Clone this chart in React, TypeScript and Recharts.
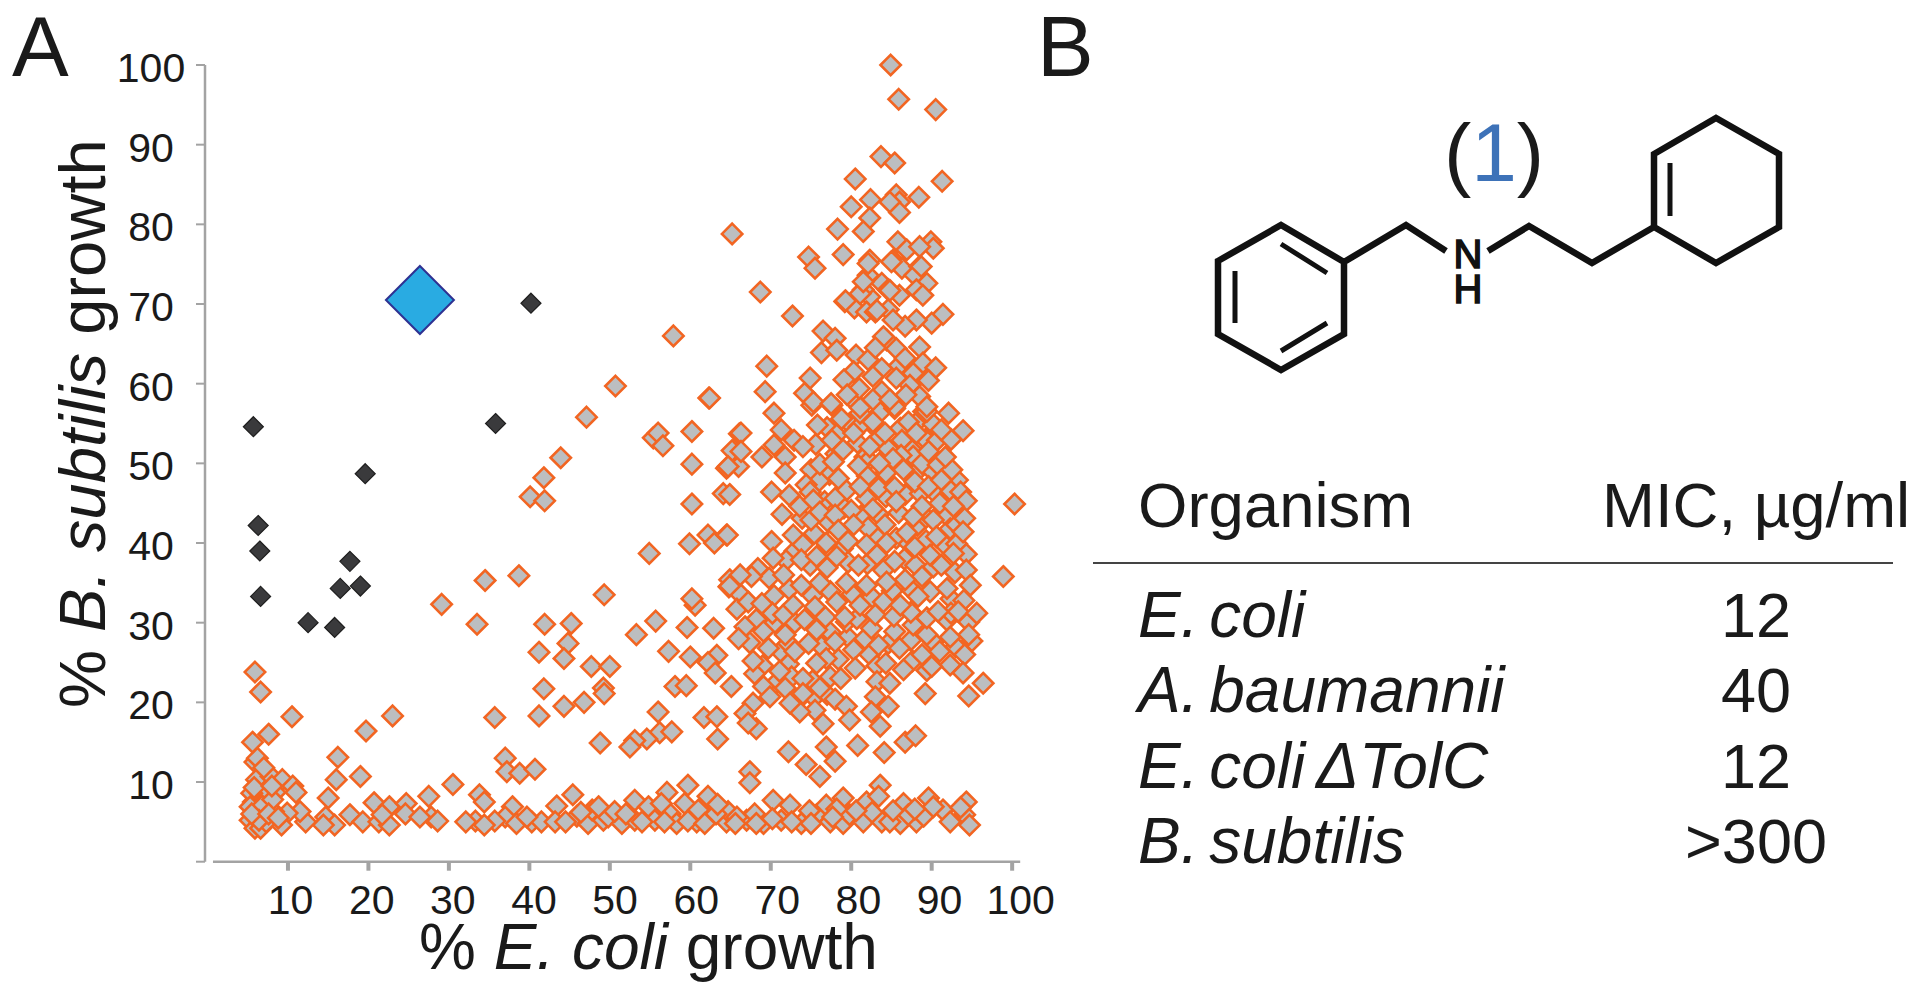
import { ScatterChart, Scatter, XAxis, YAxis, ReferenceLine } from "recharts";

const xTicks = [10, 20, 30, 40, 50, 60, 70, 80, 90, 100];
const yTicks = [0, 10, 20, 30, 40, 50, 60, 70, 80, 90, 100];

// compound 1
const compound = [[26.4, 70.5]];

// black diamonds, upper left
const hits = [
  [5.7, 54.6], [6.3, 42.2], [6.5, 39], [6.6, 33.3], [12.5, 30], [15.8, 29.4], [16.5, 34.3],
  [17.7, 37.7], [19, 34.6], [19.6, 48.7], [35.8, 55], [40.2, 70.1],
];

// everything above about 56% on the y axis
const upperCloud = [
  [84.9, 100], [85.9, 95.7], [90.5, 94.4], [83.7, 88.5], [85.4, 87.7], [80.5, 85.7], [91.3, 85.4],
  [80, 82.2], [82.4, 83.1], [85.6, 83.7], [86, 82.8], [88.4, 83.4], [86, 81.5], [84.8, 82.8],
  [82.3, 80.8], [81.5, 79.1], [78.3, 79.4], [65.2, 78.8], [79, 76.2], [74.7, 75.9], [75.5, 74.5],
  [85.8, 77.8], [86.9, 76.8], [89.9, 77.8], [90.2, 77], [88.5, 77.2], [82.3, 75.5], [85.2, 75.5],
  [86.3, 74.5], [88.5, 74.7], [87.9, 73.6], [89.4, 72.6], [82.1, 73.6], [83.8, 72.6], [84.6, 71.8],
  [88.1, 71.8], [88.9, 71.1], [82.3, 70.9], [81.5, 71.8], [86, 71.1], [68.7, 71.5], [79.2, 70.3],
  [80.4, 69.5], [81.9, 69], [83, 69], [84.6, 69.3], [72.7, 68.5], [91.4, 68.7], [90, 67.6],
  [88.1, 68], [86.7, 67.2], [85.2, 68], [76.5, 66.6], [78, 65.7], [76.3, 63.9], [78.2, 64.2],
  [84.4, 65.5], [84, 65.9], [85.6, 64.4], [88.5, 64.6], [88.9, 62.6], [90.5, 62], [80.6, 63.6],
  [82.1, 63], [83.8, 61.9], [86, 62.3], [87.7, 61.3], [69.5, 62.2], [69.3, 59], [62.4, 58.2],
  [74.9, 60.7], [74.2, 58.8], [75.3, 57.7], [77.5, 57.5], [80.3, 61.5], [79.1, 60.5], [82.7, 60.9],
  [85.6, 60.7], [87.3, 59.8], [83.8, 59], [88.5, 58.4], [80.5, 57.7], [82.7, 58], [85.4, 57.1],
  [89.4, 56.5], [81.1, 57], [57.9, 66], [50.7, 59.7], [81.1, 71.3], [79.3, 70.4], [81.5, 72.8],
  [84.8, 71.7], [83.2, 69.2], [82.1, 75.1], [85, 75.3], [88.7, 74.7], [89.4, 57.1], [81, 59.4],
  [84.8, 58], [86.8, 58.6], [86.7, 63.2], [83, 64.5], [79.5, 58.6], [89.6, 60.4],
];

// dense block, 30 to 56 on the y axis
const middleCloud = [
  [70.4, 56.3], [66.3, 53.8], [66.3, 51.5], [71.3, 54.2], [72.9, 52.9], [74, 52.1], [70.4, 52.3],
  [68.9, 50.8], [71.8, 50.8], [64.7, 49.6], [71.8, 48.8], [75.8, 54.8], [75.1, 57.3], [77.6, 57.3],
  [78.8, 55.6], [81.1, 56.3], [82.7, 55.2], [84.2, 53.8], [85.4, 56.9], [87.1, 55.2], [88.1, 53.8],
  [89, 56.5], [92.1, 56.3], [91.2, 54.2], [93.9, 54.1], [77.6, 52.9], [79, 51.7], [82.3, 52.1],
  [80.3, 53.8], [85.2, 50.6], [83.5, 50], [88.8, 50], [90.8, 49.8], [92.5, 49.2], [89.6, 51.5],
  [91.7, 50.8], [86.5, 49.2], [80.9, 49.7], [76.1, 49.9], [77.8, 50.2], [70.1, 46.4], [64.9, 46.1],
  [74.4, 47.3], [74.9, 46.4], [78.4, 48.1], [81.1, 47.1], [83.4, 46.9], [85.4, 47], [87.9, 47.7],
  [89.6, 47.1], [91.2, 47.9], [78, 45.6], [73.6, 44.6], [75.3, 45.4], [80, 44.1], [82.7, 44.3],
  [85.6, 45.2], [88.8, 44.6], [91, 45], [94.3, 45.3], [100.3, 44.9], [92.7, 44.6], [75, 42.9],
  [76.1, 43.9], [78, 43.5], [87.7, 43.3], [84.2, 42.3], [82.1, 41.9], [80.3, 42.3], [93.1, 42.3],
  [94.1, 43.1], [90.2, 42.9], [78.4, 41.6], [86.9, 41.3], [72.8, 41], [64.6, 41], [93.9, 41.4],
  [90.6, 40.8], [84.4, 40], [81.9, 39.8], [87.9, 39.5], [79.6, 40.2], [70.1, 40.2], [76.9, 40],
  [74, 39.8], [70.3, 38.1], [73.8, 37.9], [75.7, 38.3], [78.2, 38.3], [80.9, 37.2], [83.2, 38.5],
  [85.4, 37.7], [89.8, 38.5], [91.2, 37.2], [94.3, 38.6], [92.7, 38.7], [94.3, 36.6], [98.9, 35.8],
  [88.8, 35.8], [86.7, 35.4], [84.4, 35.1], [81.9, 34.7], [79.4, 35], [76.1, 35], [73.8, 34.7],
  [71.6, 36], [67.6, 35.8], [66.2, 36], [64.9, 34.6], [94.8, 34.7], [91.9, 34.3], [67.2, 32.6],
  [68.9, 32.4], [72.8, 32.2], [75.5, 32], [78.2, 32.6], [81.1, 32.2], [84, 32.6], [86.1, 32.2],
  [88.3, 33.3], [93.3, 31.4], [95.6, 31.2], [90.8, 31.4], [79.2, 30.7],
];

// second layer of the dense block, the diamonds half hidden under the first
const middleUnder = [
  [77, 54.5], [79.8, 55], [83.6, 56.4], [86.1, 54.4], [88.6, 55.6], [90.2, 54.9], [83.4, 54.1],
  [81, 54.6], [75.6, 52.4], [78.2, 53.6], [80.8, 52.6], [83.1, 52.8], [84.6, 51.8], [86.3, 52.9],
  [87.6, 51.6], [89.2, 53], [90.7, 52.9], [92.4, 53], [81.7, 50.8], [78.1, 51.2], [75, 49.2],
  [82.2, 50.4], [84.3, 48.8], [87.7, 50.9], [86.2, 51], [88.1, 48.9], [89.9, 49.2], [93.2, 47.9],
  [82, 48.4], [77.3, 48.6], [76, 47.8], [79.4, 46.6], [81.9, 45.6], [84.3, 45.8], [86.7, 46.1],
  [88.6, 46.2], [90.4, 46.3], [92.4, 46.5], [93.6, 46.4], [76.7, 45.2], [72.3, 46], [71.4, 43.6],
  [73.9, 43.1], [77.2, 42.6], [79.1, 44.4], [81.2, 43.4], [83.4, 43.6], [85.9, 43.8], [88.2, 42.2],
  [89.3, 43.2], [91.8, 43.5], [92.3, 41.8], [75.4, 41.2], [78.9, 39.3], [83.1, 40.8], [85.6, 40.6],
  [87.2, 39.9], [89.3, 40.3], [91.7, 39.7], [93.1, 39.9], [73, 39], [74.9, 37.2], [77, 36.9],
  [79.6, 37.6], [82, 37.4], [84, 36.6], [86.6, 38], [88, 37.2], [90.2, 37], [92.9, 36.3],
  [71.9, 37.8], [68.4, 36.8], [69.8, 35.6], [72.3, 34.2], [75.2, 33.4], [77.4, 33.9], [80.1, 33.6],
  [82.6, 33.2], [85.1, 34], [87.5, 34.1], [89.8, 33.9], [92.4, 33], [94, 32.8], [70.4, 33.4],
  [66, 33.8], [65.8, 31.7], [70.2, 31.2], [71.6, 31], [74.2, 30.4], [76.8, 30.7], [80.7, 30.5],
  [83, 31], [85.3, 30.8], [87.4, 31.3], [89.4, 30.6], [92.4, 31.2],
];

// lower part of the block, down to about 10
const lowerCloud = [
  [94.6, 30.1], [91.9, 30.3], [94.6, 28.5], [92.3, 28.2], [89.4, 28.5], [87.7, 29.7], [85.4, 28.9],
  [82.5, 29.3], [79.4, 30.1], [75.7, 29.1], [78, 27.6], [80.3, 26.6], [83.4, 27.2], [86, 26.8],
  [88.8, 26], [91, 26.4], [94.1, 26], [92.3, 24.7], [93.9, 23.7], [90, 24.5], [86.5, 24.1],
  [84.3, 24.9], [80.5, 24.3], [78.7, 23], [76.9, 25.5], [75.7, 24.9], [73, 26.4], [74.7, 27.4],
  [70.5, 30], [69.1, 28.9], [66.8, 29.5], [66, 28], [71.8, 28.5], [73, 30], [67.8, 25.2],
  [69.7, 26.8], [71.1, 23.9], [74, 23], [71.8, 21.8], [69.1, 22], [69.9, 20.7], [74, 21.1],
  [76.1, 21.8], [65.1, 22], [78, 20.4], [79.4, 19.5], [75.5, 19], [73.6, 18.8], [72.4, 19.9],
  [67.8, 19.9], [66.8, 18.6], [68.2, 16.7], [67.2, 17.4], [76.5, 17.3], [79.8, 17.8], [83.2, 22.6],
  [84.8, 22.4], [83, 20.7], [84.6, 19.5], [82.5, 18.8], [83.6, 17], [89.2, 21.1], [94.6, 20.8],
  [96.4, 22.4], [72.2, 13.8], [74.4, 12.2], [76.9, 14.4], [78, 12.6], [76.1, 10.7], [80.8, 14.6],
  [84.1, 13.7], [86.7, 15], [88, 15.8], [67.4, 11.3], [67.4, 9.9],
];

const lowerUnder = [
  [67.4, 27.5], [68.2, 30.4], [71.2, 26.4], [72.2, 27.4], [76.3, 27], [77.4, 28.8], [79.6, 28.2],
  [81.7, 28], [82.3, 26], [84.6, 27.4], [87.4, 27.8], [90.2, 27.6], [93, 27], [95, 27.7], [87.6, 25.2],
  [89.4, 24], [83.2, 24.6], [78.4, 25.4], [72.2, 24.8], [69, 24.6], [70.6, 22.4], [72.6, 23.2],
  [75.2, 22.7], [77.4, 23.2], [68, 23.6], [73.3, 20.2], [75.4, 20.6], [77, 21],
];

// scattered points left of the block
const scattered = [
  [47.1, 55.8], [43.9, 50.7], [41.8, 48.2], [40.1, 45.8], [41.9, 45.3], [55.4, 53.2], [56, 53.8],
  [56.6, 52.2], [60.2, 49.9], [64.5, 49.4], [65.5, 51.7], [66, 49.6], [60.2, 44.9], [64.1, 46.2],
  [54.9, 38.7], [59.9, 39.9], [62.2, 41], [63, 40], [64.5, 41], [34.5, 35.3], [38.7, 35.9],
  [29.1, 32.3], [33.5, 29.8], [49.3, 33.5], [41.9, 29.8], [45.2, 29.9], [44.8, 27.4], [41.2, 26.3],
  [44.3, 25.5], [47.7, 24.5], [50, 24.5], [41.8, 21.7], [49.2, 21.8], [49.3, 21.1], [46.8, 20],
  [44.3, 19.5], [41.2, 18.3], [35.7, 18.1], [53.3, 28.5], [55.7, 30.2], [57.3, 26.4], [59.6, 29.4],
  [62.9, 29.3], [60, 25.7], [63.3, 25.9], [62.2, 25], [63.1, 23.7], [58.1, 22], [59.5, 22.1],
  [60.6, 32.2], [60.2, 33], [64.8, 34.5], [64.9, 35.4], [56, 18.8], [61.7, 18.1], [63.3, 18.2],
  [56.2, 16.2], [57.7, 16.3], [54.6, 15.4], [53.1, 15.2], [52.5, 14.4], [48.8, 14.9], [63.4, 15.4],
  [62.3, 58.2], [60.2, 54], [66.1, 53.7], [65.2, 51.6],
  [5.9, 23.8], [6.6, 21.3], [10.5, 18.2], [7.6, 16], [5.6, 15], [23, 18.3], [19.7, 16.4],
  [16.2, 13.1], [16, 10.3], [19, 10.7], [37, 13], [37.2, 11.3], [38.8, 11.1], [40.7, 11.6],
];

// the flat band along the bottom
const lowBand = [
  [5.9, 12.5], [6.2, 13], [6.1, 10.3], [7.9, 10.7], [9.3, 10.3], [10.6, 9.5], [8.4, 8.7], [15, 8],
  [30.5, 9.7], [27.5, 8.2], [33.8, 8.4], [20.7, 7.4], [22.6, 6.9], [24.7, 7.3], [24.6, 6], [27.8, 5.6],
  [26.4, 5.6], [28.6, 5.1], [34.4, 7.5], [33.3, 5.1], [32.1, 5], [37.9, 6.9], [37, 5.6], [35.7, 5.1],
  [34.4, 4.6], [38.4, 4.8], [40.3, 5], [41.5, 5], [43.4, 7], [43.2, 5], [39.7, 5.6], [17.7, 5.9],
  [19.3, 5], [14.7, 5.6], [15.8, 4.6], [14.4, 4.6], [12.2, 5], [11.5, 6.3], [9.9, 6.1], [9.2, 4.6],
  [8.2, 6.3], [6, 6.1], [5.7, 7.5], [5.3, 5.2], [5.9, 4.2], [6.6, 4.2], [7.3, 5], [7, 8.6],
  [5.5, 8.6], [5.3, 6.9], [21.3, 5], [22.6, 4.6], [21.7, 5.9], [45.4, 8.4], [45.9, 5.7], [47.3, 4.8],
  [49.2, 5.2], [49.8, 5.6], [51.5, 4.8], [53.1, 7.7], [53.1, 5.2], [54.8, 6.9], [55.6, 5.2], [57.1, 8.7],
  [57.5, 6], [58.3, 4.8], [59.7, 9.6], [59.3, 7.3], [60.8, 5], [62.2, 8.2], [62, 5.7], [64.5, 5],
  [64.7, 6.3], [67, 5.2], [69.1, 4.8], [70.3, 7.7], [71.3, 5.2], [72.4, 7.1], [73.8, 4.8], [75.7, 5.9],
  [76.9, 7.1], [77.4, 5], [79, 8], [79, 4.8], [79.8, 5.9], [81.9, 7.5], [81.5, 5], [83.6, 9.6],
  [83.4, 8.2], [83.8, 5], [86.5, 7.3], [86.1, 4.8], [88.1, 5], [89.6, 8], [89, 5.7], [91.4, 6.5],
  [94.3, 7.5], [94.1, 5.9], [94.7, 4.6], [90.2, 6.9], [87.1, 5.9], [84.8, 5], [47.8, 6.5], [50.6, 6.3],
  [52, 6], [56.4, 7.3], [61, 6.5], [63.2, 6], [65.8, 5.6], [68, 6], [74.8, 6.4], [78.2, 6.6], [82.6, 6.2],
  [6.8, 7], [8.1, 7.8], [6.4, 5.2], [5.5, 6], [5.8, 9.3], [7.6, 6], [8.8, 5.5], [44.5, 5], [46.4, 6.2],
  [48.6, 6.9], [54, 5], [56.8, 5], [59.7, 5.1], [61.8, 4.8], [63.4, 7.2], [65.6, 4.8], [68.2, 4.8],
  [70.2, 5.4], [72.6, 5], [75, 4.8], [77.7, 5.6], [80.6, 6.4], [85.2, 6.4], [87.9, 6.6], [92.3, 5],
  [93.6, 6.8], [11, 8.7], [8, 9.5], [7, 11.8],
];

const organisms = ["E. coli", "A. baumannii", "E. coli ΔTolC", "B. subtilis"];
const micValues = ["12", "40", "12", ">300"];

const toPoints = (rows: number[][]) => rows.map(([x, y]) => ({ x, y }));

const screened = toPoints([
  ...lowBand, ...lowerUnder, ...lowerCloud, ...scattered, ...middleUnder, ...middleCloud, ...upperCloud,
]);

const FONT = "'Liberation Sans', Arial, sans-serif";
const INK = "#1a1a1a";
const AXIS = "#a3a3a3";

const diamond = (half: number, fill: string, stroke: string, strokeWidth: number) => (props: any) => {
  const { cx, cy } = props;
  return (
    <polygon
      points={`${cx},${cy - half} ${cx + half},${cy} ${cx},${cy + half} ${cx - half},${cy}`}
      fill={fill}
      stroke={stroke}
      strokeWidth={strokeWidth}
    />
  );
};

const XTick = ({ x, y, payload }: any) => (
  <text x={x + 2 + payload.value * 0.065} y={y + 41} textAnchor="middle" fontSize={41} fontFamily={FONT} fill={INK}>
    {payload.value}
  </text>
);

const YTick = ({ x, y, payload }: any) =>
  payload.value === 0 ? null : (
    <text x={x - 43} y={y + 17} textAnchor="middle" fontSize={41} fontFamily={FONT} fill={INK}>
      {payload.value}
    </text>
  );

const bonds =
  "M1218 261 L1281 225 L1344 262 L1344 334 L1281 370 L1218 334 Z " +
  "M1344 262 L1406 225 L1446 251 M1488 251 L1529 226 L1592 263 L1654 227 " +
  "M1654 227 L1654 154 L1716 118 L1779 154 L1779 227 L1716 263 Z";
const innerBonds =
  "M1281 244 L1327 273 M1235 271 L1235 323 M1281 351 L1327 323 M1670 163 L1670 216";

export default function App() {
  return (
    <div style={{ position: "absolute", left: 0, top: 0, width: 1920, height: 989, background: "#fff", overflow: "hidden" }}>
      <ScatterChart width={1920} height={989} margin={{ top: 65, right: 899.8, bottom: 67.3, left: 145 }}>
        <XAxis
          type="number"
          dataKey="x"
          domain={[-0.31, 101]}
          ticks={xTicks}
          axisLine={false}
          tickLine={{ stroke: AXIS, strokeWidth: 4 }}
          tickSize={9}
          height={60}
          tick={<XTick />}
          interval={0}
        />
        <YAxis
          type="number"
          dataKey="y"
          domain={[0, 100]}
          ticks={yTicks}
          axisLine={{ stroke: AXIS, strokeWidth: 2.5 }}
          tickLine={{ stroke: AXIS, strokeWidth: 2 }}
          tickSize={9}
          width={60}
          tick={<YTick />}
          interval={0}
        />
        <ReferenceLine
          segment={[{ x: 0.68, y: 0 }, { x: 101, y: 0 }]}
          stroke={AXIS}
          strokeWidth={2.5}
          ifOverflow="visible"
        />
        <Scatter data={screened} isAnimationActive={false} shape={diamond(10.2, "#bcbec0", "#f26522", 2.6)} />
        <Scatter data={toPoints(hits)} isAnimationActive={false} shape={diamond(10, "#3a3a3c", "#1f1f1f", 1.2)} />
        <Scatter data={toPoints(compound)} isAnimationActive={false} shape={diamond(34, "#29abe2", "#2e3192", 2)} />
      </ScatterChart>

      <svg width={1920} height={989} style={{ position: "absolute", left: 0, top: 0, pointerEvents: "none" }} fontFamily={FONT} fill={INK}>
        <text x={12} y={76} fontSize={85}>A</text>
        <text x={1037} y={76} fontSize={85}>B</text>

        <text transform="translate(105,708) rotate(-90)" fontSize={65.2}>
          % <tspan fontStyle="italic">B. subtilis</tspan> growth
        </text>
        <text x={419} y={969} fontSize={64}>
          % <tspan fontStyle="italic">E. coli</tspan> growth
        </text>

        <path d={bonds} fill="none" stroke="#111" strokeWidth={6.5} strokeLinejoin="miter" />
        <path d={innerBonds} fill="none" stroke="#111" strokeWidth={5} />
        <text x={1468} y={268} textAnchor="middle" fontSize={40} fill="#111" stroke="#111" strokeWidth={1.6}>N</text>
        <text x={1468} y={303} textAnchor="middle" fontSize={40} fill="#111" stroke="#111" strokeWidth={1.6}>H</text>
        <text x={1494} y={181} textAnchor="middle" fontSize={82}>
          (<tspan fill="#3d72b8">1</tspan>)
        </text>

        <text x={1138} y={527} fontSize={63.5}>Organism</text>
        <text x={1602} y={527} fontSize={63.5}>MIC, µg/ml</text>
        <line x1={1093} x2={1893} y1={563} y2={563} stroke="#444" strokeWidth={2.2} />
        {organisms.map((name, i) => (
          <text key={name} x={1138} y={637 + i * 75.3} fontSize={64} fontStyle="italic" wordSpacing={-7}>
            {name}
          </text>
        ))}
        {micValues.map((v, i) => (
          <text key={i} x={1756} y={637 + i * 75.3} fontSize={63} textAnchor="middle">
            {v}
          </text>
        ))}
      </svg>
    </div>
  );
}
